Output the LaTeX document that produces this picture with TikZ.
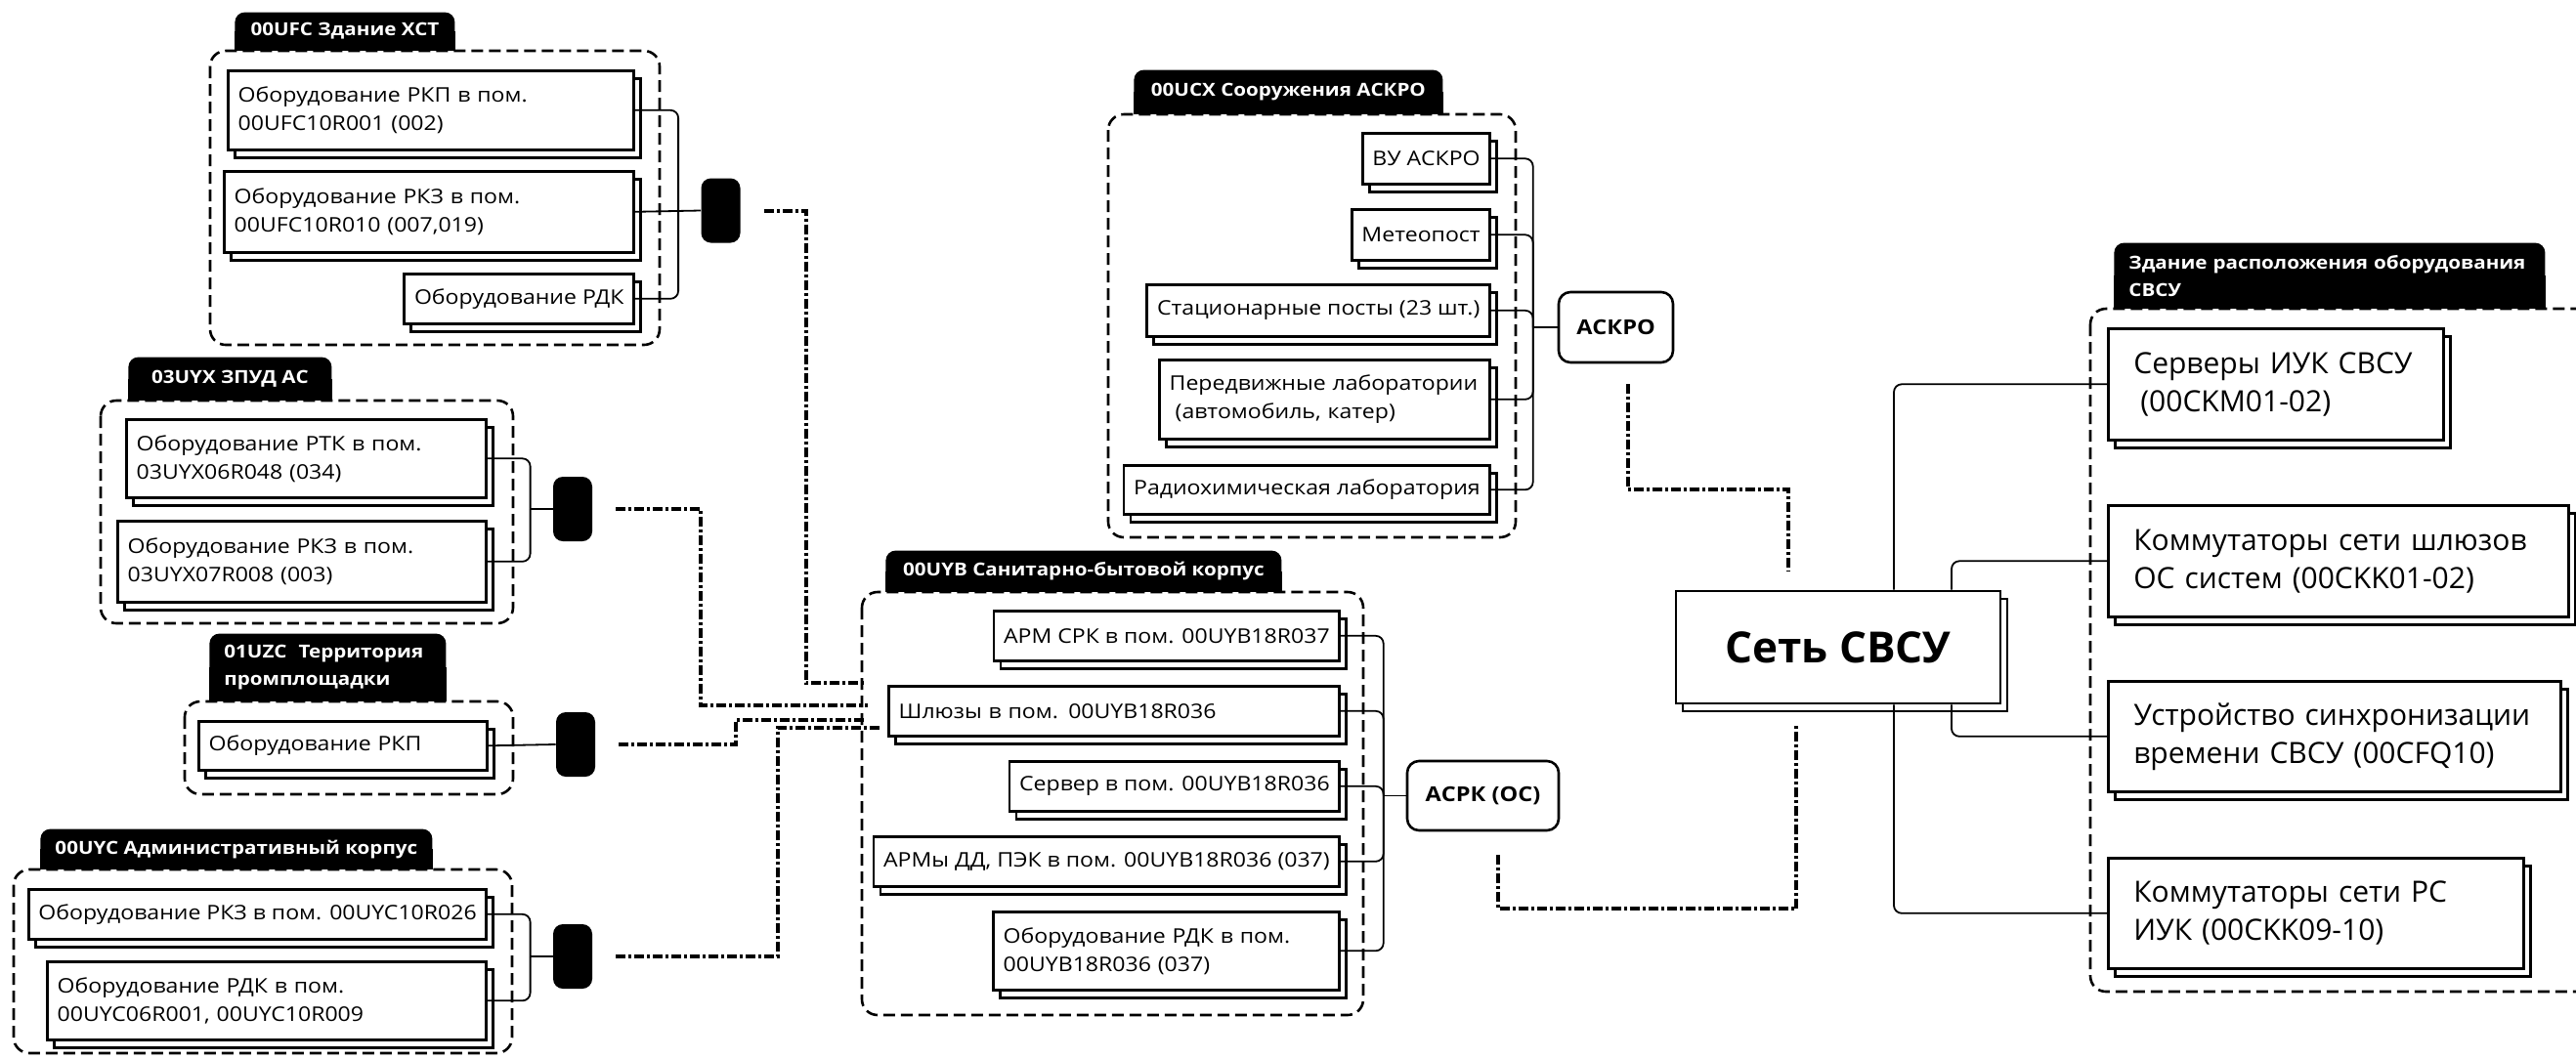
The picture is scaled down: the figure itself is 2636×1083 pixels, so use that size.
\documentclass[tikz,border=0pt]{standalone}
\usepackage{fontspec}
\setmainfont{Open Sans}
\newfontfamily\itemfont[FakeStretch=1.12]{Open Sans}
\usetikzlibrary{shadows}
\pgfdeclarelayer{back}
\pgfsetlayers{back,main}

\tikzset{
  item/.style={draw, line width=1.3pt, fill=white, anchor=north east, align=left,
    inner xsep=5pt, inner ysep=2pt, font=\itemfont\fontsize{10.3}{14.5}\selectfont,
    general shadow={shadow xshift=3.5pt, shadow yshift=-4pt, draw=black, fill=white, line width=1.3pt}},
  big/.style={item, anchor=north west, inner xsep=13pt, font=\fontsize{15}{19.5}\selectfont},
  grp/.style={draw, line width=1.3pt, rounded corners=8pt, dash pattern=on 6pt off 3pt},
  tab/.style={fill=black, text=white, anchor=south west, align=left, rounded corners=5pt,
    inner xsep=7.5pt, inner ysep=1pt, font=\itemfont\bfseries\fontsize{9.2}{14}\selectfont},
  hub/.style={draw, line width=1.3pt, rounded corners=6pt, font=\itemfont\bfseries\fontsize{10.5}{12}\selectfont},
  pill/.style={fill=black, rounded corners=5pt, minimum width=20pt, minimum height=33pt, inner sep=0pt},
  link/.style={line width=0.9pt, rounded corners=4pt},
  bus/.style={line width=2pt, dash pattern=on 5pt off 1.5pt on 1.5pt off 1.5pt}
}

\begin{document}
\begin{tikzpicture}[x=0.5pt, y=-0.5pt]
\useasboundingbox (0,0) rectangle (2636,1083);

% building outlines
\draw[grp] (215,52) rectangle (675,353);
\draw[grp] (103,410) rectangle (525,638);
\draw[grp] (189,718) rectangle (525,813);
\draw[grp] (14,890) rectangle (524,1078);
\draw[grp] (1134,117) rectangle (1551,550);
\draw[grp] (882,606) rectangle (1395,1039);
\draw[grp] (2139,316) rectangle (2700,1015);

% 00UFC
\node[item, text width=197.5pt, minimum height=40.5pt] (a1) at (650,71) {Оборудование РКП в пом.\\00UFC10R001 (002)};
\node[item, text width=199.5pt, minimum height=41.5pt] (a2) at (650,174) {Оборудование РКЗ в пом.\\00UFC10R010 (007,019)};
\node[item, minimum width=117.5pt, minimum height=25.5pt] (a3) at (650,279) {Оборудование РДК};
% 03UYX
\node[item, text width=174pt, minimum height=40pt] (b1) at (499,428) {Оборудование РТК в пом.\\03UYX06R048 (034)};
\node[item, text width=178.5pt, minimum height=41.5pt] (b2) at (499,532) {Оборудование РКЗ в пом.\\03UYX07R008 (003)};
% 01UZC
\node[item, text width=137.5pt, minimum height=25pt] (c1) at (500,737) {Оборудование РКП};
% 00UYC
\node[item, minimum width=233pt, minimum height=25.5pt] (d1) at (499,909) {Оборудование РКЗ в пом. 00UYC10R026};
\node[item, text width=214.5pt, minimum height=40pt] (d2) at (499,983) {Оборудование РДК в пом.\\00UYC06R001, 00UYC10R009};
% 00UCX
\node[item, minimum width=64pt, minimum height=26pt] (e1) at (1526,135) {ВУ АСКРО};
\node[item, minimum width=70pt, minimum height=26pt] (e2) at (1526,213) {Метеопост};
\node[item, minimum width=175.5pt, minimum height=26.5pt] (e3) at (1526,290) {Стационарные посты (23 шт.)};
\node[item, text width=159pt, minimum height=40.5pt] (e4) at (1526,367) {Передвижные лаборатории\\\hspace*{3pt}(автомобиль, катер)};
\node[item, minimum width=186.5pt, minimum height=25pt] (e5) at (1526,475) {Радиохимическая лаборатория};
% 00UYB
\node[item, minimum width=175.5pt, minimum height=25.5pt] (f1) at (1372,624) {АРМ СРК в пом. 00UYB18R037};
\node[item, text width=220.5pt, minimum height=25.5pt] (f2) at (1372,701) {Шлюзы в пом. 00UYB18R036};
\node[item, minimum width=167pt, minimum height=25.5pt] (f3) at (1372,778) {Сервер в пом. 00UYB18R036};
\node[item, minimum width=235.5pt, minimum height=25.5pt] (f4) at (1372,855) {АРМы ДД, ПЭК в пом. 00UYB18R036 (037)};
\node[item, text width=167pt, minimum height=40pt] (f5) at (1372,932) {Оборудование РДК в пом.\\00UYB18R036 (037)};
% СВСУ
\node[big, text width=145.5pt, minimum height=57pt] (g1) at (2156,335) {Серверы ИУК СВСУ\\\hspace*{3.5pt}(00CKM01-02)};
\node[big, text width=209.5pt, minimum height=57pt] (g2) at (2156,516) {Коммутаторы сети шлюзов\\ОС систем (00CKK01-02)};
\node[big, text width=205.5pt, minimum height=56.5pt] (g3) at (2156,696) {Устройство синхронизации\\времени СВСУ (00CFQ10)};
\node[big, text width=186.5pt, minimum height=56.5pt] (g4) at (2156,877) {Коммутаторы сети РС\\ИУК (00CKK09-10)};

% tabs
\node[tab, minimum width=112.5pt, minimum height=19.5pt] (tA) at (240,52) {00UFC Здание ХСТ};
\node[tab, minimum width=104pt, minimum height=22pt] (tB) at (131,410) {03UYX ЗПУД АС};
\node[tab, text width=106pt, minimum height=34.5pt] (tC) at (214,718) {01UZC\ \ Территория\\промплощадки};
\node[tab, minimum width=200.5pt, minimum height=20.5pt] (tD) at (41,890) {00UYC Административный корпус};
\node[tab, minimum width=158pt, minimum height=22.5pt] (tE) at (1160,117) {00UCX Сооружения АСКРО};
\node[tab, minimum width=202.5pt, minimum height=21pt] (tF) at (906,606) {00UYB Санитарно-бытовой корпус};
\node[tab, text width=205.5pt, minimum height=33.5pt] (tG) at (2163,316) {Здание расположения оборудования\\СВСУ};
\begin{pgfonlayer}{back}
  \foreach \t in {tA,tB,tC,tD,tE,tF,tG}
    \fill (\t.west) rectangle (\t.south east);
\end{pgfonlayer}

% hubs
\node[hub, minimum width=58.5pt, minimum height=36pt] (askro) at (1653.5,335) {АСКРО};
\node[hub, minimum width=77.5pt, minimum height=35.5pt] (asrk) at (1517.5,814.5) {АСРК (ОС)};
\node[item, anchor=center, align=center, minimum width=166pt, minimum height=57.5pt,
  font=\bfseries\fontsize{22}{26}\selectfont] (net) at (1881,662.5) {Сеть СВСУ};

\node[pill] (pA) at (737.5,215.5) {};
\node[pill] (pB) at (586,521) {};
\node[pill] (pC) at (589,762) {};
\node[pill] (pD) at (586,979) {};

% brackets
\coordinate (jA) at ([xshift=-11.5pt]pA.west);
\draw[link] (a2.east) -- (pA.west);
\foreach \n in {a1,a3} \draw[link] (jA) |- (\n.east);
\coordinate (jB) at ([xshift=-11.5pt]pB.west);
\draw[link] (pB.west) -- (jB);
\foreach \n in {b1,b2} \draw[link] (jB) |- (\n.east);
\draw[link] (c1.east) -- (pC.west);
\coordinate (jD) at ([xshift=-11.5pt]pD.west);
\draw[link] (pD.west) -- (jD);
\foreach \n in {d1,d2} \draw[link] (jD) |- (\n.east);
\coordinate (jE) at ([xshift=-12.5pt]askro.west);
\draw[link] (askro.west) -- (jE);
\foreach \n in {e1,e2,e3,e4,e5} \draw[link] (jE) |- (\n.east);
\coordinate (jF) at ([xshift=-11.5pt]asrk.west);
\draw[link] (asrk.west) -- (jF);
\foreach \n in {f1,f2,f3,f4,f5} \draw[link] (jF) |- (\n.east);
\draw[link] ([xshift=28.5pt]net.north) |- (g1.west);
\draw[link] ([xshift=58pt]net.north) |- (g2.west);
\draw[link] ([xshift=58pt]net.south) |- (g3.west);
\draw[link] ([xshift=28.5pt]net.south) |- (g4.west);

% network lines
\coordinate (inA) at (885,699);
\coordinate (inB) at (888,722);
\coordinate (inC) at (885,737);
\coordinate (inD) at (903,745);
\draw[bus] ([xshift=12pt]pA.east) -- ++(43,0) |- (inA);
\draw[bus] ([xshift=12pt]pB.east) -- ++(87,0) |- (inB);
\draw[bus] ([xshift=12pt]pC.east) -- ++(120,0) |- (inC);
\draw[bus] ([xshift=12pt]pD.east) -- ++(166,0) |- (inD);
\draw[bus] ([shift={(12,21)}]askro.south) -- ++(0,108) -| ([shift={(-51,-19)}]net.north);
\draw[bus] ([shift={(15,24)}]asrk.south) -- ++(0,55) -| ([shift={(-43,19)}]net.south);
\end{tikzpicture}
\end{document}
